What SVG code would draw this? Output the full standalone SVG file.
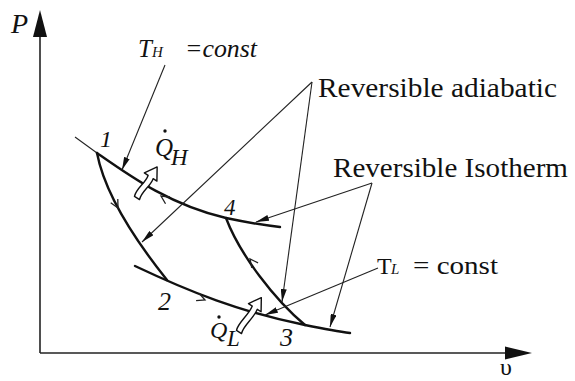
<svg xmlns="http://www.w3.org/2000/svg" width="575" height="381" viewBox="0 0 575 381">
<style>
text{font-family:"Liberation Serif","Times New Roman",serif;fill:#111}
.it{font-style:italic}
.axis{stroke:#222;stroke-width:1.6;fill:none}
.thick{stroke:#111;stroke-width:2.4;fill:none;stroke-linecap:round}
.thin{stroke:#222;stroke-width:1.1;fill:none}
.lead{stroke:#222;stroke-width:1.1;fill:none;marker-end:url(#ah)}
.chev{stroke:#222;stroke-width:1.3;fill:none}
.hollow{fill:#fff;stroke:#111;stroke-width:1.4;stroke-linejoin:round}
</style>
<defs>
<marker id="ah" viewBox="0 0 13 6" refX="13" refY="3" markerWidth="13" markerHeight="6" markerUnits="userSpaceOnUse" orient="auto">
<path d="M0,0 L13,3 L0,6 z" fill="#111"/>
</marker>
<path id="chv" d="M-8,-4 L0,0 L-8,4"/>
</defs>
<rect width="575" height="381" fill="#fff"/>
<g id="axes">
<line class="axis" x1="40" y1="353" x2="40" y2="30"/>
<polygon points="40,10 33,37 47,37" fill="#111"/>
<line class="axis" x1="40" y1="353" x2="512" y2="353"/>
<polygon points="532,353 505,346.5 505,359.5" fill="#111"/>
<text class="it" x="11" y="33" font-size="28">P</text>
<text x="500" y="375" font-size="24">υ</text>
</g>
<g id="curves">
<path class="thin" d="M75,137 L97,153"/>
<path id="isoH" class="thick" d="M97,153 C130,176 170,205 226,218 C245,222 262,225 280,227"/>
<path id="adi12" class="thick" d="M97,153 C105,195 135,240 167,280"/>
<path id="isoL" class="thick" d="M135,266 C190,292 240,312 305,325 C320,328 335,331 350,333"/>
<path id="adi34" class="thick" d="M305,325 C275,300 240,255 226,218"/>
<use href="#chv" class="chev" transform="translate(118,208) rotate(62)"/>
<use href="#chv" class="chev" transform="translate(161,196) rotate(213)"/>
<use href="#chv" class="chev" transform="translate(205,300) rotate(22)"/>
<use href="#chv" class="chev" transform="translate(250,259) rotate(232)"/>
</g>
<g id="connectors">
<line class="lead" x1="165" y1="65" x2="122" y2="170"/>
<line class="lead" x1="312" y1="82" x2="142" y2="242"/>
<line class="lead" x1="312" y1="82" x2="282" y2="302"/>
<line class="lead" x1="372" y1="183" x2="256" y2="222"/>
<line class="lead" x1="372" y1="183" x2="330" y2="327"/>
<line class="lead" x1="378" y1="268" x2="265" y2="315"/>
</g>
<g id="heatH">
<path class="hollow" transform="translate(137,198) rotate(33)" d="M-3,0 C-6,-8 -1,-17 -3,-25 L-7.5,-25 L0,-37 L7.5,-25 L3,-25 C5,-17 0,-8 3,0 Z"/>
<text class="it" x="155" y="156" font-size="25">Q</text>
<circle cx="165" cy="131" r="1.7" fill="#111"/>
<text class="it" x="171" y="165" font-size="23">H</text>
</g>
<g id="heatL">
<path class="hollow" transform="translate(239,332) rotate(33)" d="M-3,0 C-6,-8 -1,-19 -3,-29 L-7.5,-29 L0,-41 L7.5,-29 L3,-29 C5,-19 0,-8 3,0 Z"/>
<text class="it" x="210" y="338" font-size="24">Q</text>
<circle cx="219" cy="317" r="1.7" fill="#111"/>
<text class="it" x="227" y="346" font-size="23">L</text>
</g>
<g id="labels">
<text class="it" x="100" y="147" font-size="24">1</text>
<text class="it" x="158" y="310" font-size="26">2</text>
<text class="it" x="280" y="346" font-size="26">3</text>
<text class="it" x="224" y="215" font-size="23">4</text>
</g>
<g id="labelTH">
<text class="it" x="138" y="57" font-size="25">T</text>
<text class="it" x="152" y="57" font-size="15">H</text>
<text class="it" x="185" y="57" font-size="25" textLength="72" lengthAdjust="spacingAndGlyphs">=const</text>
</g>
<g id="labelAdi">
<text x="318" y="97" font-size="28" textLength="239" lengthAdjust="spacingAndGlyphs">Reversible adiabatic</text>
</g>
<g id="labelIso">
<text x="333" y="177" font-size="28" textLength="235" lengthAdjust="spacingAndGlyphs">Reversible Isotherm</text>
</g>
<g id="labelTL">
<text x="377" y="274" font-size="24">T</text>
<text class="it" x="391" y="274" font-size="15">L</text>
<text x="413" y="274" font-size="25" textLength="85" lengthAdjust="spacingAndGlyphs">= const</text>
</g>
</svg>
